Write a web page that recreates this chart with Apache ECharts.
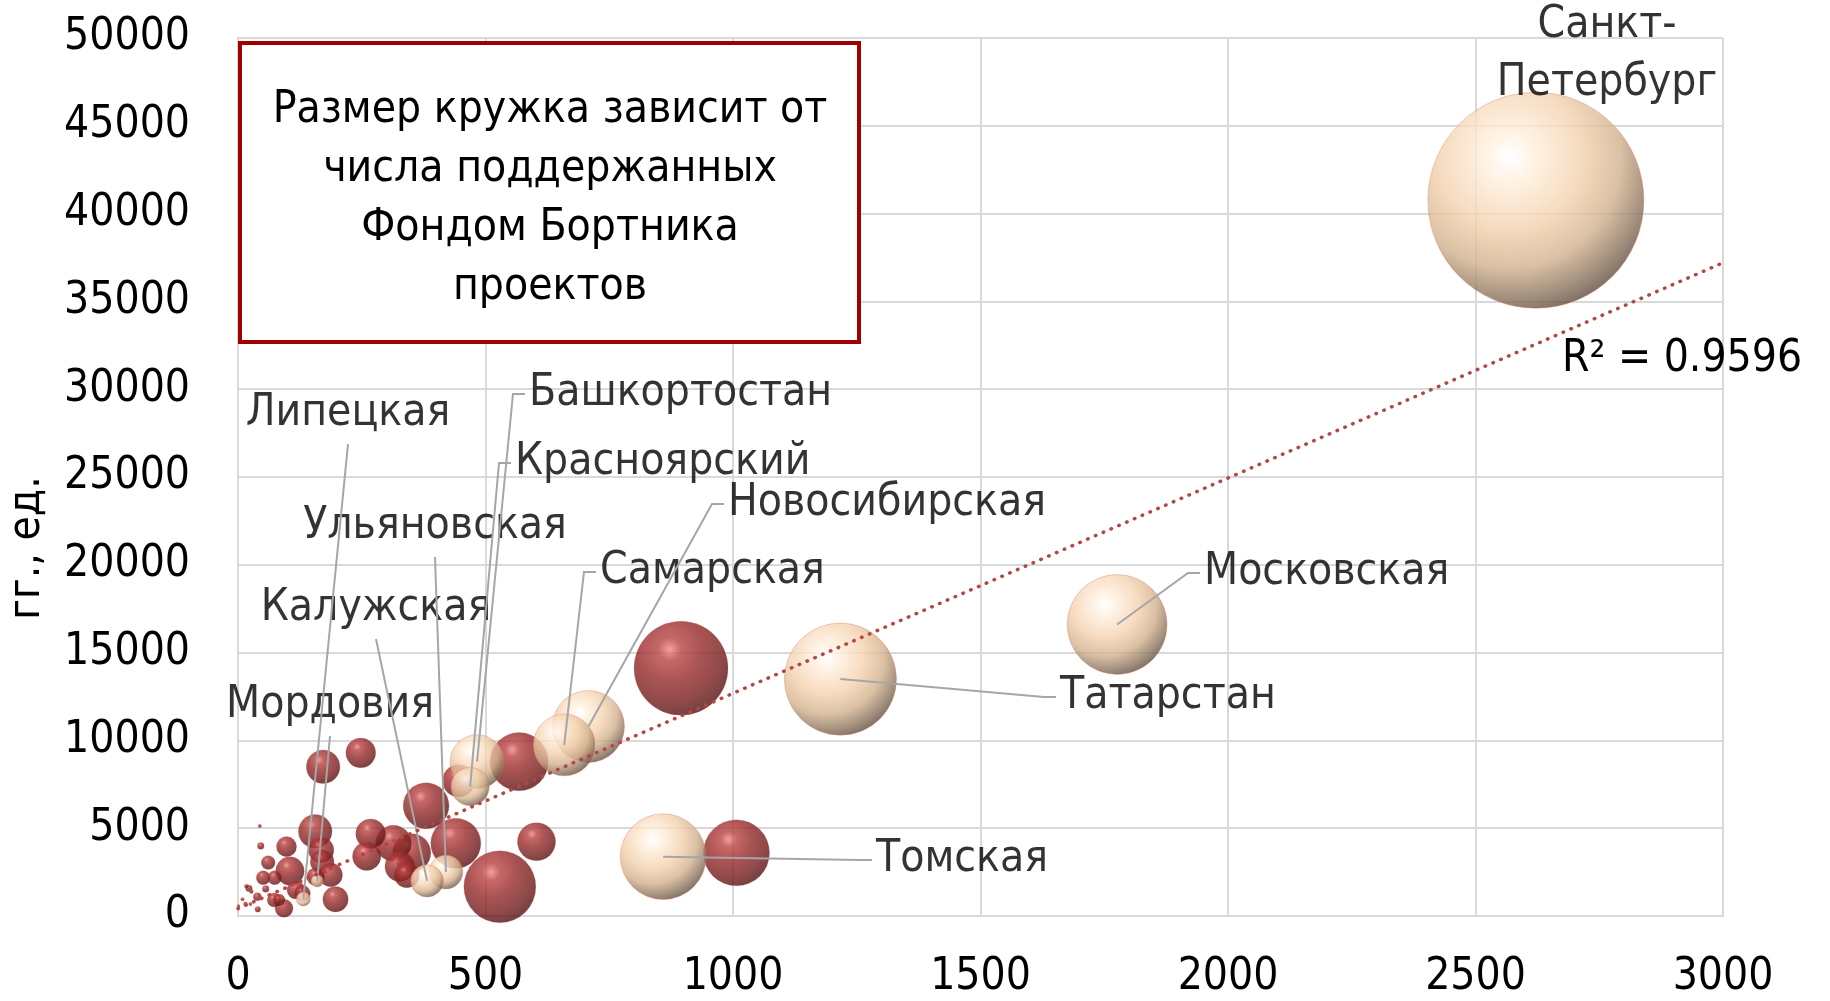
<!DOCTYPE html>
<html>
<head>
<meta charset="utf-8">
<script src="https://cdn.jsdelivr.net/npm/echarts@6/dist/echarts.min.js"></script>
<style>
html, body { margin: 0; padding: 0; background: #fff; }
#chart { width: 1830px; height: 1001px; }
</style>
</head>
<body>
<div id="chart"></div>
<script>
// подписанные регионы: x, y, число проектов (размер кружка)
var labeledNames = ['Санкт-Петербург', 'Татарстан', 'Московская', 'Томская', 'Новосибирская', 'Самарская',
	'Башкортостан', 'Красноярский', 'Ульяновская', 'Калужская', 'Липецкая', 'Мордовия'];
var labeledX = [2622, 1217, 1776, 859, 708, 659, 483, 469, 420, 382, 132, 160];
var labeledY = [40760, 13490, 16600, 3380, 10790, 9740, 8790, 7370, 2500, 2000, 970, 1995];
var labeledSize = [576, 155, 123, 91, 64, 47, 36, 18, 14, 13, 2.4, 1.8];

// остальные регионы
var otherX = [895, 529, 1007, 568, 440, 380, 603, 351, 172, 156, 314, 446, 248, 268, 327, 260, 105, 341, 168, 197,
	170, 187, 98, 157, 117, 93, 130, 61, 51, 74, 73, 83, 39, 46, 56, 22, 40, 44, 17, 27, 9, 15, 25, 1];
var otherY = [14110, 1670, 3600, 8790, 4140, 6280, 4230, 3600, 8500, 4820, 4140, 7700, 9290, 4680, 2810, 3400, 2560, 2340, 3760, 950,
	3090, 2340, 3950, 2240, 1480, 440, 1290, 3040, 2180, 2180, 910, 910, 1100, 3990, 1540, 1580, 380, 5130, 1700, 1400, 950, 690, 690, 570];
var otherSize = [109, 64, 54, 42, 31, 26, 18, 18, 14, 14, 16, 13, 11, 11, 11, 10, 10, 8, 8, 8,
	7, 7, 5, 4, 4, 4, 3.2, 2.4, 2.4, 2.4, 2.4, 1.8, 0.8, 0.55, 0.55, 0.55, 0.4, 0.15, 0.2, 0.2, 0.15, 0.2, 0.15, 0.1];

// линия тренда
var trendX = [0, 3000];
var trendY = [420, 37200];
var trendR2 = '0.9596';

var fontName = "'DejaVu Sans Condensed', 'Liberation Sans Narrow', 'DejaVu Sans', sans-serif";
var bubbleScale = 9;

// где стоят подписи (пиксели): x, y, выравнивание, выноска
var labelSpots = {
	'Санкт-Петербург': [1607, 55, 'center', 'none'],
	'Московская': [1204, 573, 'left', 'side'],
	'Татарстан': [1060, 697, 'left', 'side'],
	'Томская': [876, 860, 'left', 'side'],
	'Новосибирская': [728, 504, 'left', 'side'],
	'Самарская': [600, 572, 'left', 'side'],
	'Башкортостан': [529, 394, 'left', 'side'],
	'Красноярский': [515, 463, 'left', 'side'],
	'Ульяновская': [435, 527, 'center', 'below'],
	'Калужская': [376, 609, 'center', 'below'],
	'Мордовия': [330, 706, 'center', 'below'],
	'Липецкая': [348, 414, 'center', 'below']
};

var redBall = {
	type: 'radial', x: 0.38, y: 0.3, r: 0.8,
	colorStops: [
		{ offset: 0, color: '#f08585' },
		{ offset: 0.15, color: '#b94242' },
		{ offset: 0.42, color: '#952929' },
		{ offset: 0.7, color: '#761d1d' },
		{ offset: 0.9, color: '#521212' },
		{ offset: 1, color: '#360909' }
	]
};
var beigeBall = {
	type: 'radial', x: 0.38, y: 0.3, r: 0.8,
	colorStops: [
		{ offset: 0, color: '#ffffff' },
		{ offset: 0.14, color: '#fff0de' },
		{ offset: 0.42, color: '#f3d1ae' },
		{ offset: 0.64, color: '#d1b08d' },
		{ offset: 0.85, color: '#7c6753' },
		{ offset: 1, color: '#342921' }
	]
};

var labeledData = [];
for (var i = 0; i < labeledNames.length; i++) {
	labeledData.push({ name: labeledNames[i], value: [labeledX[i], labeledY[i], labeledSize[i]] });
}
var otherData = [];
for (var j = 0; j < otherX.length; j++) {
	otherData.push([otherX[j], otherY[j], otherSize[j]]);
}
var trendData = [];
for (var k = 0; k < trendX.length; k++) {
	trendData.push([trendX[k], trendY[k]]);
}

function plainNum(v) {
	return String(v);
}

// выноски от центра кружка к подписи
function drawLeader(params, api) {
	var s = labelSpots[labeledNames[params.dataIndex]];
	if (s[3] == 'none') return null;
	var c = api.coord([api.value(0), api.value(1)]);
	var pts;
	if (s[3] == 'side') {
		pts = [c, [s[0] - 16, s[1]], [s[0] - 4, s[1]]];
	} else {
		pts = [c, [s[0], s[1] + 30]];
	}
	return {
		type: 'polyline',
		shape: { points: pts },
		style: { stroke: '#a6a6a6', lineWidth: 2, fill: null }
	};
}

var chart = echarts.init(document.getElementById('chart'));
chart.setOption({
	animation: false,
	backgroundColor: '#fff',
	textStyle: { fontFamily: fontName },
	grid: { left: 238, right: 107, top: 38, bottom: 85, outerBoundsMode: 'none' },
	xAxis: {
		type: 'value', min: 0, max: 3000, interval: 500,
		axisLine: { show: true, lineStyle: { color: '#d9d9d9', width: 2 } },
		axisTick: { show: false },
		splitLine: { show: true, lineStyle: { color: '#d9d9d9', width: 2 } },
		axisLabel: { fontSize: 44, color: '#000', margin: 40, fontFamily: fontName, formatter: plainNum }
	},
	yAxis: {
		type: 'value', min: 0, max: 50000, interval: 5000,
		axisLine: { show: true, lineStyle: { color: '#d9d9d9', width: 2 } },
		axisTick: { show: false },
		splitLine: { show: true, lineStyle: { color: '#d9d9d9', width: 2 } },
		axisLabel: { fontSize: 44, color: '#000', margin: 48, fontFamily: fontName, formatter: plainNum }
	},
	graphic: [
		{
			type: 'rect', z: 5,
			shape: { x: 240, y: 43, width: 619, height: 299 },
			style: { fill: '#fff', stroke: '#a00000', lineWidth: 4 }
		},
		{
			type: 'text', z: 6, x: 550, y: 199,
			style: {
				text: 'Размер кружка зависит от\nчисла поддержанных\nФондом Бортника\nпроектов',
				font: '44px ' + fontName, fill: '#000',
				textAlign: 'center', textVerticalAlign: 'middle', lineHeight: 59
			}
		},
		{
			type: 'text', z: 6, x: 1562, y: 360,
			style: {
				text: 'R² = ' + trendR2, font: '44px ' + fontName, fill: '#000',
				textAlign: 'left', textVerticalAlign: 'middle'
			}
		},
		{
			type: 'text', z: 6, x: 28, y: 548, rotation: Math.PI / 2,
			style: {
				text: 'гг., ед.', font: '44px ' + fontName, fill: '#000',
				textAlign: 'center', textVerticalAlign: 'middle'
			}
		}
	],
	series: [
		{
			type: 'scatter',
			name: 'Прочие регионы',
			data: otherData,
			symbolSize: function (v) { return bubbleScale * Math.sqrt(v[2]); },
			itemStyle: { color: redBall, borderColor: 'rgba(190,80,70,0.5)', borderWidth: 0.5 },
			silent: true,
			z: 2
		},
		{
			type: 'scatter',
			name: 'Выделенные регионы',
			data: labeledData,
			clip: false,
			symbolSize: function (v) { return bubbleScale * Math.sqrt(v[2]); },
			itemStyle: { color: beigeBall, borderColor: 'rgba(230,120,100,0.6)', borderWidth: 0.8 },
			label: {
				show: true,
				fontSize: 44, fontFamily: fontName, color: '#000', lineHeight: 58,
				formatter: function (p) {
					return p.name == 'Санкт-Петербург' ? 'Санкт-\nПетербург' : p.name;
				}
			},
			labelLayout: function (params) {
				var s = labelSpots[labeledNames[params.dataIndex]];
				return { x: s[0], y: s[1], align: s[2], verticalAlign: 'middle' };
			},
			silent: true,
			z: 3
		},
		{
			type: 'custom',
			name: 'Выноски',
			data: labeledData,
			clip: false,
			renderItem: drawLeader,
			silent: true,
			z: 4
		},
		{
			type: 'line',
			name: 'Тренд',
			data: trendData,
			symbol: 'none',
			lineStyle: { color: '#b84444', width: 3.5, type: [0.5, 8], cap: 'round' },
			silent: true,
			z: 5
		}
	]
});
</script>
</body>
</html>
